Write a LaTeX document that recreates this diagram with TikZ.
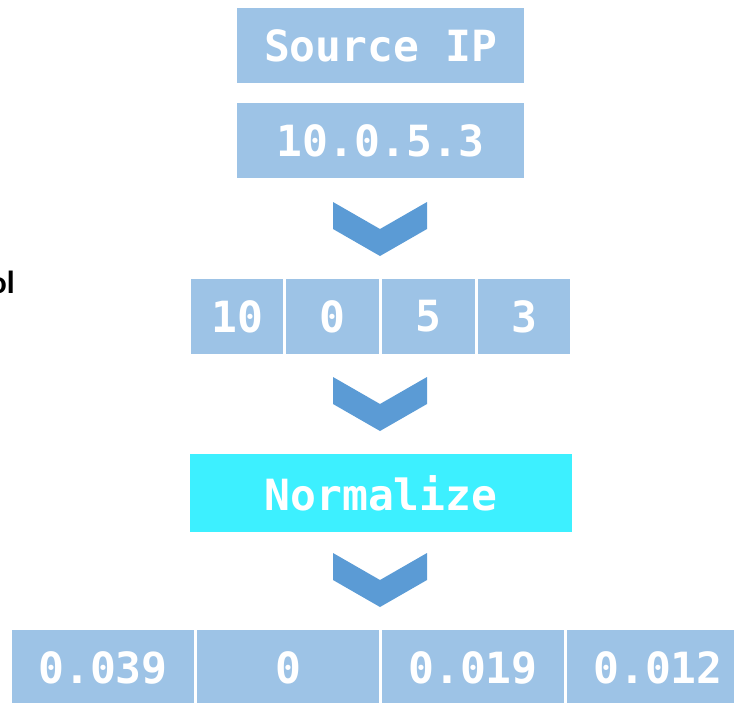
\documentclass[tikz,border=0pt]{standalone}
\usepackage{fontspec}
\setmonofont{DejaVu Sans Mono}
\newfontfamily\labelfont{Carlito}
\usepackage{tikz}
\usetikzlibrary{positioning}
\definecolor{cellblue}{RGB}{157, 195, 230}
\definecolor{arrowblue}{RGB}{91, 155, 213}
\definecolor{normcyan}{RGB}{61, 240, 255}

\begin{document}
\begin{tikzpicture}[
    x=1pt,
    y=-1pt,
    cell/.style={rectangle, fill=cellblue, text=white, inner sep=0pt,
        minimum height=75pt, font=\ttfamily\bfseries\fontsize{43}{50}\selectfont},
    chevron/.style={fill=arrowblue, draw=none}
]
    \useasboundingbox (0,0) rectangle (734,702);

    % Input field
    \node[cell, minimum width=287pt] (field) at (380.5,45.5) {Source IP};
    \node[cell, minimum width=287pt] (addr) at (380.5,140.5) {10.0.5.3};

    % Octets
    \node[cell, minimum width=92pt] (oct1) at (237,316.5) {10};
    \node[cell, minimum width=93pt] (oct2) at (332.5,316.5) {0};
    \node[cell, minimum width=93pt] (oct3) at (428.5,316.5) {5};
    \node[cell, minimum width=92pt] (oct4) at (524,316.5) {3};

    % Normalize step
    \node[cell, fill=normcyan, minimum width=382pt, minimum height=78pt] (norm) at (381,493) {Normalize};

    % Normalized values
    \node[cell, minimum width=182pt] (val1) at (103,667.5) {0.039};
    \node[cell, minimum width=182pt] (val2) at (288,667.5) {0};
    \node[cell, minimum width=182pt] (val3) at (473,667.5) {0.019};
    \node[cell, minimum width=182pt] (val4) at (658,667.5) {0.012};

    % Chevrons between the steps
    \foreach \y in {202,377,553} {
        \fill[chevron] (333,\y) -- (380,\y+27) -- (427,\y) -- (427,\y+27)
            -- (380,\y+54) -- (333,\y+27) -- cycle;
    }

    % Side label
    \node[anchor=base east, inner sep=0pt, font=\labelfont\bfseries\fontsize{32}{38}\selectfont] (side) at (15,293) {ol};
\end{tikzpicture}
\end{document}
